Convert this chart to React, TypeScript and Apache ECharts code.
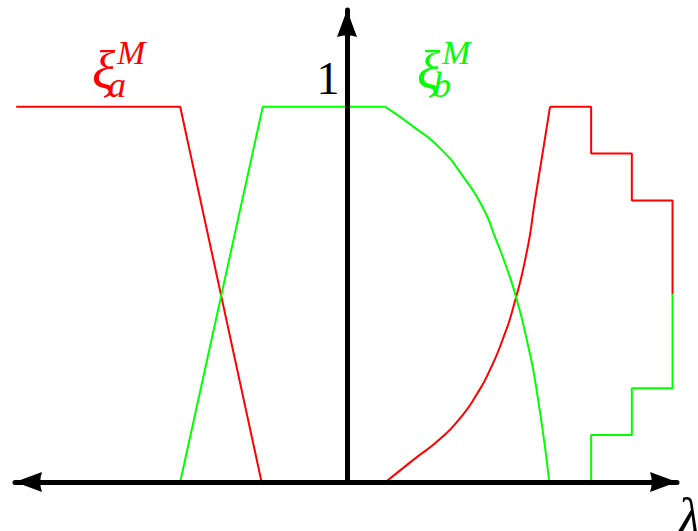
import React, { useEffect, useRef } from "react";
import * as echarts from "echarts";

// Membership functions ξ_a^M (red) and ξ_b^M (green) over λ
const redLeft: [number, number][] = [[-8.13, 1], [-4.1, 1], [-2.1, 0]];
const redCurve: [number, number][] = [
  [0.95, 0], [1.63, 0.059], [2.29, 0.115], [2.78, 0.17], [3.19, 0.234], [3.51, 0.298],
  [3.84, 0.384], [4.09, 0.467], [4.42, 0.614], [4.62, 0.751], [4.82, 0.885], [4.99, 1],
];
const redSteps: [number, number][] = [
  [4.99, 1], [6, 1], [6, 0.875], [7, 0.875], [7, 0.75], [8, 0.75], [8, 0.5],
];
const greenLeft: [number, number][] = [[-4.1, 0], [-2.07, 1], [0.93, 1]];
const greenCurve: [number, number][] = [
  [0.93, 1], [1.63, 0.947], [2.29, 0.889], [2.86, 0.813], [3.35, 0.729], [3.64, 0.652],
  [3.92, 0.572], [4.15, 0.494], [4.42, 0.378], [4.66, 0.245], [4.97, 0],
];
const greenSteps: [number, number][] = [
  [6, 0], [6, 0.125], [7, 0.125], [7, 0.25], [8, 0.25], [8, 0.5],
];
const yTickValues = [1];
const yTickLabels = ["1"];

const RED = "#ff0000";
const GREEN = "#00ff00";
const SERIF = "'Liberation Serif', 'DejaVu Serif', serif";
const ARROW = "path://M10,0 L20,27 Q10,23.5 0,27 Z";
const ARROW_SIZE = [20, 27];
const ARROW_PULL = 13.5;

function lineSeries(data: [number, number][], color: string, smooth: boolean) {
  return {
    type: "line",
    data,
    smooth: smooth ? 0.6 : false,
    showSymbol: false,
    symbol: "none",
    clip: false,
    silent: true,
    lineStyle: { color, width: 2 },
    z: 3,
  };
}

function xiLabel(x: number, color: string, sub: string) {
  return {
    type: "group",
    x,
    y: 0,
    children: [
      { type: "text", x: 0, y: 71, style: { text: "ξ", fill: color, font: `italic 54px ${SERIF}`, textAlign: "left", textVerticalAlign: "middle" } },
      { type: "text", x: 25, y: 52.5, style: { text: "M", fill: color, font: `italic 34px ${SERIF}`, textAlign: "left", textVerticalAlign: "middle" } },
      { type: "text", x: 16, y: 85, style: { text: sub, fill: color, font: `italic 36px ${SERIF}`, textAlign: "left", textVerticalAlign: "middle" } },
    ],
  };
}

export default function App() {
  const ref = useRef<HTMLDivElement>(null);

  useEffect(() => {
    if (!ref.current) return;
    const chart = echarts.init(ref.current, null, { renderer: "svg" });
    const axisLineStyle = { color: "#000", width: 5 };
    chart.setOption({
      animation: false,
      backgroundColor: "#fff",
      grid: { left: 15, right: 21, top: 10, bottom: 49, containLabel: false, outerBoundsMode: "none" },
      xAxis: {
        type: "value",
        min: -8.16,
        max: 8.11,
        z: 10,
        axisLine: {
          show: true,
          onZero: true,
          symbol: [ARROW, ARROW],
          symbolSize: ARROW_SIZE,
          symbolOffset: [ARROW_PULL, -ARROW_PULL],
          lineStyle: axisLineStyle,
        },
        axisTick: { show: false },
        axisLabel: { show: false },
        splitLine: { show: false },
        name: "λ",
        nameLocation: "end",
        nameGap: 1,
        nameTextStyle: {
          color: "#000",
          fontFamily: SERIF,
          fontStyle: "italic",
          fontSize: 52,
          align: "left",
          verticalAlign: "top",
          padding: [8, 0, 0, 0],
        },
      },
      yAxis: {
        type: "value",
        min: 0,
        max: 1.2577,
        interval: 1,
        z: 10,
        axisLine: {
          show: true,
          onZero: true,
          symbol: ["none", ARROW],
          symbolSize: ARROW_SIZE,
          symbolOffset: [0, -ARROW_PULL],
          lineStyle: axisLineStyle,
        },
        axisTick: { show: false },
        splitLine: { show: false },
        axisLabel: { show: false },
      },
      series: [
        lineSeries(redLeft, RED, false),
        lineSeries(redCurve, RED, true),
        lineSeries(redSteps, RED, false),
        lineSeries(greenLeft, GREEN, false),
        lineSeries(greenCurve, GREEN, true),
        lineSeries(greenSteps, GREEN, false),
      ],
    });

    // tick label "1" beside the y axis, anchored to its value through the axis scale
    const tickTexts = yTickValues.map((v, i) => {
      const [px, py] = chart.convertToPixel({ xAxisIndex: 0, yAxisIndex: 0 }, [0, v]) as number[];
      return {
        type: "text",
        x: px - 19,
        y: py - 28,
        style: {
          text: yTickLabels[i],
          fill: "#000",
          font: `46px ${SERIF}`,
          textAlign: "center",
          textVerticalAlign: "middle",
        },
      };
    });

    chart.setOption({
      graphic: [...tickTexts, xiLabel(92, RED, "a"), xiLabel(417, GREEN, "b")],
    });
    return () => chart.dispose();
  }, []);

  return (
    <div
      ref={ref}
      style={{ position: "fixed", left: 0, top: 0, width: 698, height: 531, background: "#fff" }}
    />
  );
}
